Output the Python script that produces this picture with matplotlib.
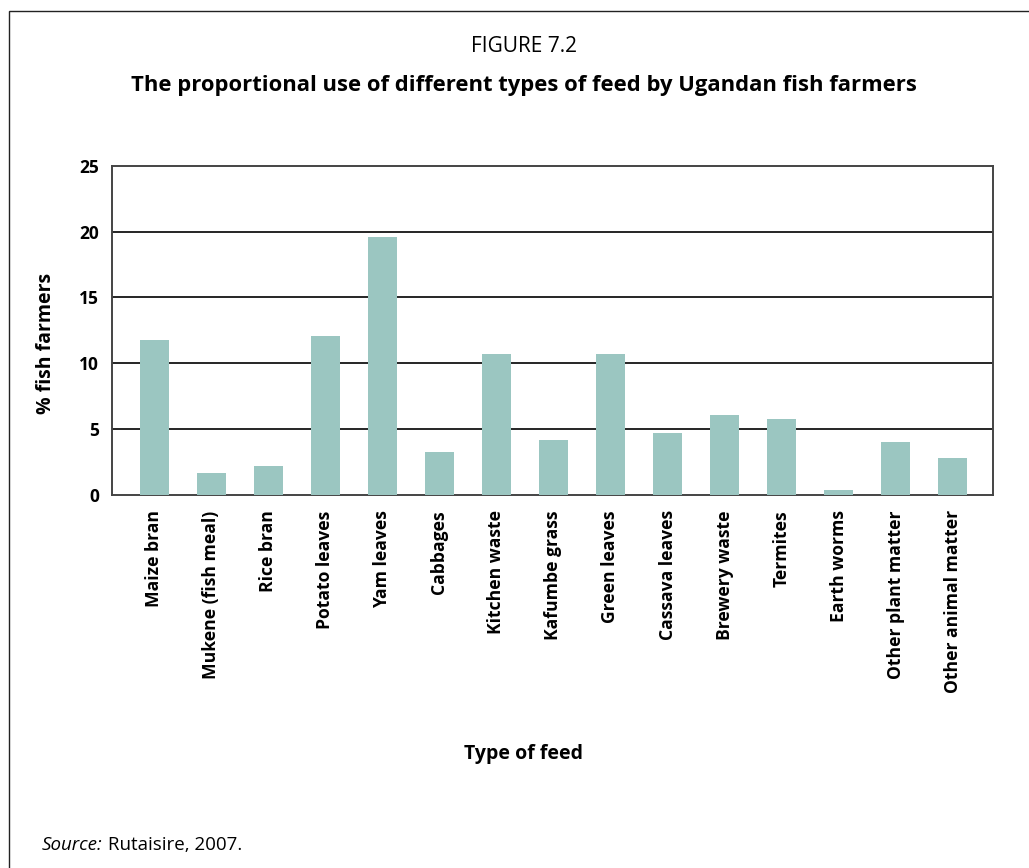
import matplotlib
matplotlib.use("Agg")
import matplotlib.pyplot as plt
from matplotlib.patches import Rectangle

plt.rcParams["font.family"] = ["Open Sans", "DejaVu Sans"]

feeds = ["Maize bran", "Mukene (fish meal)", "Rice bran", "Potato leaves", "Yam leaves",
         "Cabbages", "Kitchen waste", "Kafumbe grass", "Green leaves", "Cassava leaves",
         "Brewery waste", "Termites", "Earth worms", "Other plant matter", "Other animal matter"]
pct = [11.8, 1.7, 2.2, 12.1, 19.6, 3.3, 10.7, 4.2, 10.7, 4.7, 6.1, 5.8, 0.4, 4.0, 2.8]
yticks = [0, 5, 10, 15, 20, 25]

W, H = 1029, 868
fig = plt.figure(figsize=(W / 100, H / 100), dpi=100)

# outer frame (runs off right/bottom edges)
fig.patches.append(Rectangle((9 / W, -0.1), 1.2, 1 - 11 / H + 0.1, transform=fig.transFigure,
                             fill=False, ec="#222222", lw=1.0))

ax = fig.add_axes([111.7 / W, 1 - 495 / H, (993 - 111.7) / W, (495 - 165.7) / H])
xs = list(range(len(feeds)))
ax.bar(xs, pct, width=0.51, color="#9bc6c1", zorder=3)
ax.set_xlim(-0.75, 14.71)
ax.set_ylim(0, 25)
ax.set_yticks(yticks)
ax.set_yticklabels([str(t) for t in yticks], fontsize=12.5, fontweight="bold")
ax.set_xticks(xs)
ax.set_xticklabels(feeds, rotation=90, fontsize=12.6, fontweight="bold", va="top")
ax.tick_params(length=0, pad=9)
ax.tick_params(axis="x", pad=11)
for y in yticks[1:-1]:
    ax.axhline(y, color="black", lw=1.2, zorder=2)
for s in ax.spines.values():
    s.set_color("#444444")
    s.set_linewidth(1.4)

fig.text(524 / W, 1 - 46 / H, "FIGURE 7.2", ha="center", va="center", fontsize=15)
fig.text(524 / W, 1 - 86 / H, "The proportional use of different types of feed by Ugandan fish farmers",
         ha="center", va="center", fontsize=15.8, fontweight="bold")
fig.text(46 / W, 1 - 343 / H, "% fish farmers", rotation=90, ha="center", va="center",
         fontsize=14, fontweight="bold")
fig.text(523 / W, 1 - 754 / H, "Type of feed", ha="center", va="center", fontsize=14, fontweight="bold")
# source line: italic "Source:" followed by plain text
src = fig.text(42 / W, 1 - 845 / H, "Source:", ha="left", va="center", fontsize=13.5, style="italic")
ax.annotate(" Rutaisire, 2007.", xy=(1, 0.5), xycoords=src, ha="left", va="center",
            fontsize=13.5, annotation_clip=False)

fig.savefig("out.png", dpi=100)
